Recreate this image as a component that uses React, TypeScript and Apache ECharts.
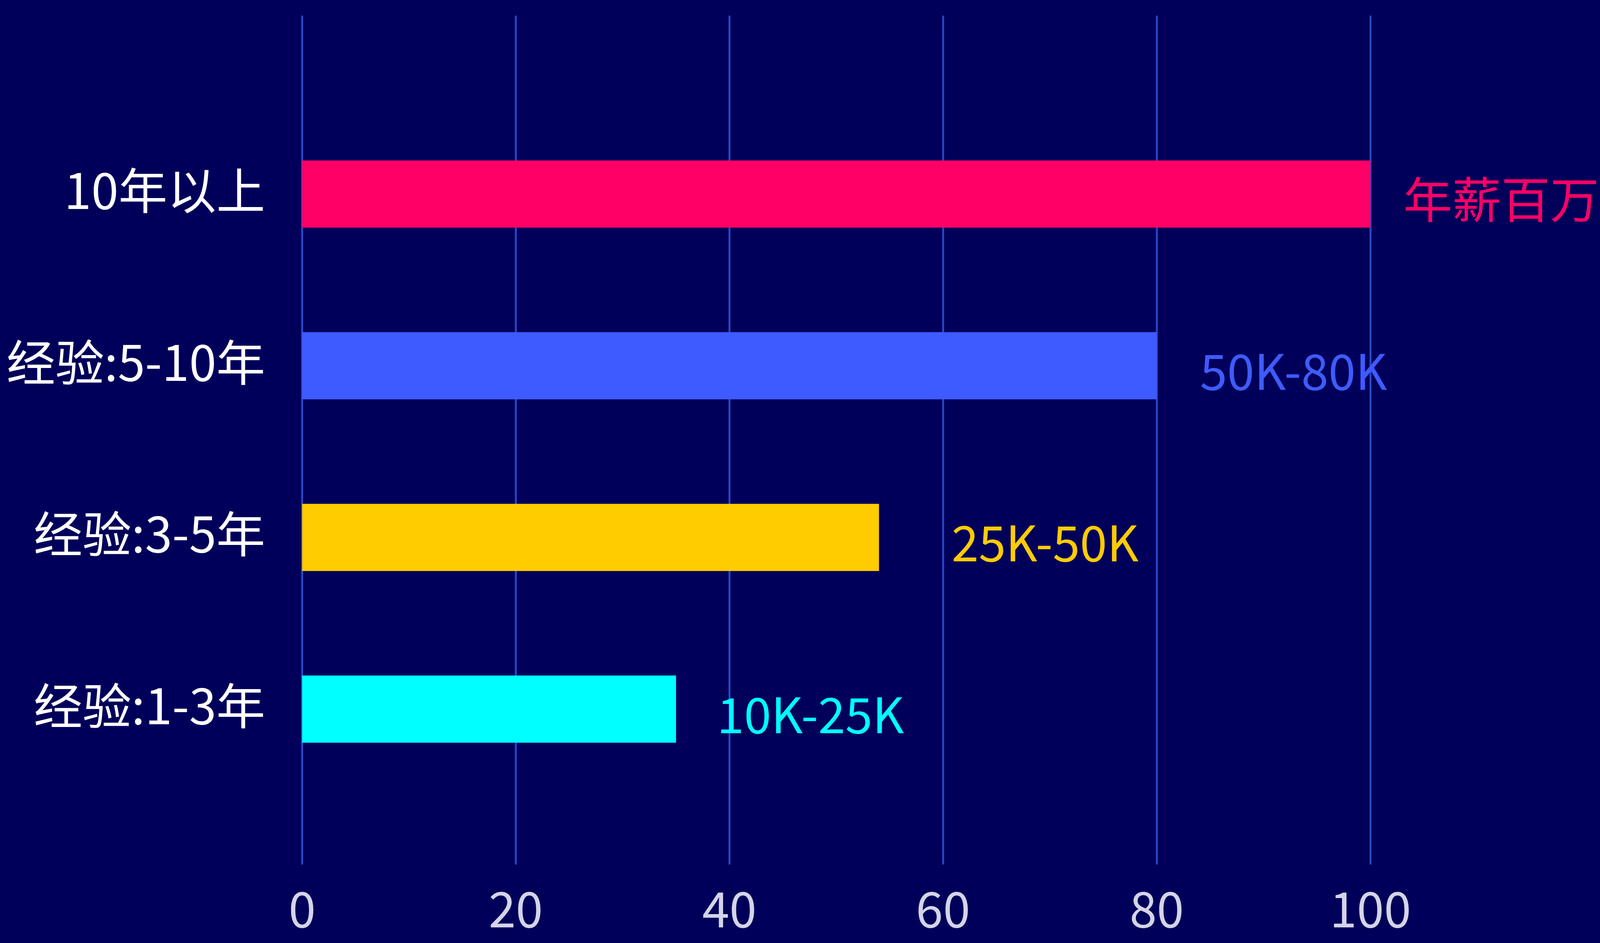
import React, { useEffect, useRef } from "react";
import * as echarts from "echarts";

const categories = ["经验:1-3年", "经验:3-5年", "经验:5-10年", "10年以上"];
const values = [35, 54, 80, 100];
const salaryLabels = ["10K-25K", "25K-50K", "50K-80K", "年薪百万"];
const barColors = ["#00FFFF", "#FFCC00", "#3E5BFF", "#FF0066"];
const labelGaps = [123, 218, 130, 99];
const xTicks = { min: 0, max: 100, interval: 20 };

const FONT = "'Noto Sans CJK SC', 'Noto Sans', sans-serif";
const REF_W = 4809;
const REF_H = 2414;

export default function App() {
  const ref = useRef<HTMLDivElement>(null);
  useEffect(() => {
    if (!ref.current) return;
    const chart = echarts.init(ref.current, undefined, { renderer: "svg" });
    const w = ref.current.clientWidth || REF_W;
    const h = ref.current.clientHeight || REF_H;
    const sx = w / REF_W;
    const sy = h / REF_H;
    const fs = 147 * sx;
    const L = 908 * sx;
    const W = (4119 - 908) * sx;
    chart.setOption({
      animation: false,
      backgroundColor: "#00005A",
      grid: [
        { left: L, width: W, top: 277 * sy, height: 1758 * sy },
        { left: L, width: W, top: 40 * sy, height: 2173 * sy },
      ],
      xAxis: [
        { gridIndex: 0, type: "value", min: xTicks.min, max: xTicks.max, interval: xTicks.interval, show: false },
        {
          gridIndex: 1,
          type: "value",
          min: xTicks.min,
          max: xTicks.max,
          interval: xTicks.interval,
          axisLine: { show: false },
          axisTick: { show: false },
          splitLine: { show: true, lineStyle: { color: "#2846C8", width: 5 } },
          axisLabel: {
            color: "#D4D4E8",
            fontSize: fs,
            lineHeight: fs,
            fontFamily: FONT,
            margin: 44 * sy,
          },
        },
      ],
      yAxis: [
        {
          gridIndex: 0,
          type: "category",
          data: categories,
          axisLine: { show: false },
          axisTick: { show: false },
          splitLine: { show: false },
          axisLabel: {
            color: "#FFFFFF",
            fontSize: fs,
            fontFamily: FONT,
            margin: 111 * sx,
            verticalAlign: "bottom",
            lineHeight: 32 * sy,
          },
        },
        { gridIndex: 1, type: "value", show: false },
      ],
      series: [
        {
          type: "bar",
          xAxisIndex: 0,
          yAxisIndex: 0,
          barWidth: 172 * sy,
          data: values.map((v, i) => ({
            value: v,
            itemStyle: { color: barColors[i] },
            label: {
              show: true,
              position: "right",
              distance: 0,
              offset: [labelGaps[i] * sx, 7 * sy],
              formatter: salaryLabels[i],
              color: barColors[i],
              fontSize: fs,
              fontFamily: FONT,
            },
          })),
        },
      ],
    });
    return () => chart.dispose();
  }, []);
  return (
    <div
      ref={ref}
      style={{ position: "fixed", left: 0, top: 0, width: "100vw", height: "100vh" }}
    />
  );
}
